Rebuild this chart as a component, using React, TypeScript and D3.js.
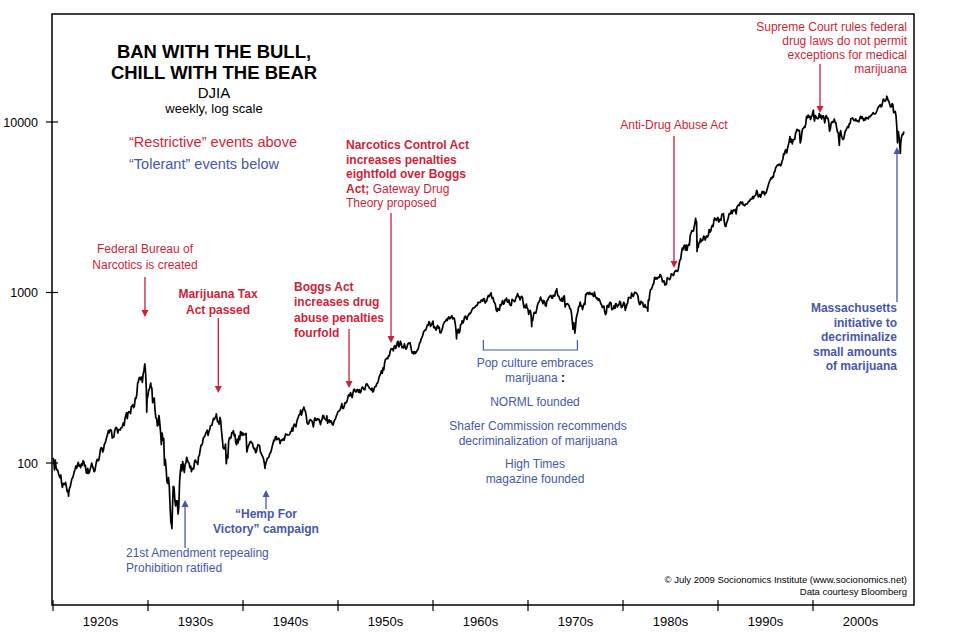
import React from "react";
import * as d3 from "d3";

// DJIA monthly closes (approx.), Jan..Dec of each year
const DJIA_1920S = [
  104, 91, 104, 94, 91, 91, 87, 84, 82, 85, 76, 72,
  76, 75, 75, 77, 73, 68, 69, 67, 71, 73, 77, 81,
  82, 85, 89, 92, 96, 93, 97, 101, 96, 97, 94, 99,
  97, 103, 102, 96, 97, 88, 87, 93, 87, 88, 92, 95,
  100, 96, 93, 89, 90, 96, 102, 105, 103, 104, 111, 120,
  123, 122, 116, 120, 129, 131, 136, 142, 147, 155, 150, 156,
  157, 154, 140, 142, 142, 154, 160, 162, 159, 150, 157, 157,
  156, 161, 161, 166, 172, 166, 182, 190, 197, 182, 198, 200,
  199, 195, 214, 216, 220, 211, 216, 240, 239, 252, 293, 300,
  317, 318, 308, 319, 297, 333, 347, 380, 343, 273, 238, 248,
];
const DJIA_1930S = [
  267, 272, 286, 279, 275, 226, 233, 240, 204, 184, 183, 165,
  167, 190, 172, 151, 128, 150, 136, 139, 97, 105, 93, 78,
  76, 82, 73, 56, 45, 43, 54, 73, 72, 61, 56, 60,
  60, 51, 55, 77, 89, 98, 90, 102, 94, 88, 98, 100,
  108, 104, 101, 100, 94, 96, 89, 93, 92, 93, 103, 104,
  101, 101, 98, 109, 111, 119, 127, 127, 131, 140, 142, 144,
  149, 152, 156, 145, 152, 157, 165, 166, 167, 177, 183, 180,
  185, 187, 186, 174, 175, 169, 185, 177, 154, 138, 123, 121,
  121, 129, 99, 111, 107, 134, 141, 139, 141, 151, 150, 155,
  144, 147, 131, 128, 138, 131, 144, 137, 153, 151, 145, 150,
];
const DJIA_1940S = [
  146, 147, 148, 149, 116, 122, 126, 129, 133, 134, 131, 131,
  124, 121, 122, 115, 116, 123, 128, 127, 127, 117, 114, 111,
  109, 106, 100, 95, 100, 103, 107, 107, 109, 114, 115, 119,
  125, 130, 136, 135, 142, 143, 137, 138, 140, 138, 130, 135,
  137, 136, 139, 136, 142, 148, 146, 147, 146, 146, 147, 152,
  153, 160, 154, 165, 169, 165, 163, 174, 181, 186, 192, 193,
  204, 191, 199, 207, 212, 205, 201, 189, 172, 169, 170, 177,
  180, 178, 177, 171, 163, 177, 184, 178, 178, 182, 180, 181,
  175, 168, 177, 180, 190, 189, 182, 181, 178, 189, 171, 177,
  179, 173, 177, 174, 168, 167, 175, 179, 182, 189, 193, 200,
];
const DJIA_1950S = [
  201, 203, 206, 214, 223, 209, 209, 216, 226, 225, 227, 235,
  248, 252, 247, 259, 249, 242, 257, 270, 271, 262, 261, 269,
  270, 260, 269, 258, 262, 274, 279, 275, 270, 269, 283, 291,
  290, 284, 280, 274, 272, 268, 275, 261, 264, 276, 281, 281,
  292, 294, 303, 319, 327, 334, 348, 336, 361, 352, 386, 404,
  409, 412, 409, 426, 425, 451, 466, 468, 467, 455, 483, 488,
  470, 484, 511, 516, 479, 493, 518, 502, 475, 480, 473, 500,
  479, 465, 474, 494, 505, 503, 508, 484, 456, 441, 449, 436,
  450, 440, 447, 456, 463, 478, 503, 509, 532, 543, 558, 584,
  594, 603, 602, 624, 644, 643, 675, 664, 632, 647, 659, 679,
];
const DJIA_1960S = [
  622, 630, 616, 601, 625, 641, 617, 626, 580, 580, 597, 616,
  648, 662, 676, 678, 697, 684, 705, 720, 701, 704, 722, 731,
  700, 708, 707, 665, 613, 561, 598, 609, 579, 590, 649, 652,
  683, 662, 683, 718, 727, 707, 695, 729, 733, 755, 751, 763,
  785, 800, 813, 811, 821, 832, 841, 839, 875, 873, 875, 874,
  903, 904, 889, 922, 918, 868, 882, 893, 931, 961, 947, 969,
  984, 952, 924, 933, 884, 870, 847, 788, 774, 807, 792, 786,
  850, 839, 866, 897, 853, 860, 904, 901, 927, 880, 876, 905,
  856, 841, 840, 912, 899, 898, 883, 896, 936, 952, 985, 944,
  946, 905, 936, 950, 938, 873, 816, 837, 813, 856, 812, 800,
];
const DJIA_1970S = [
  744, 778, 786, 736, 700, 684, 734, 765, 761, 756, 794, 839,
  869, 879, 904, 941, 907, 891, 859, 898, 887, 839, 831, 890,
  902, 928, 941, 954, 961, 929, 925, 964, 953, 956, 1018, 1020,
  999, 955, 951, 921, 901, 892, 926, 888, 947, 956, 822, 851,
  856, 861, 847, 837, 802, 802, 757, 679, 608, 666, 619, 616,
  704, 739, 768, 821, 832, 879, 832, 835, 794, 836, 860, 852,
  975, 973, 999, 997, 975, 1003, 985, 974, 990, 965, 947, 1005,
  954, 936, 919, 927, 899, 916, 891, 862, 847, 818, 830, 831,
  770, 742, 757, 837, 841, 819, 862, 877, 866, 793, 799, 805,
  839, 808, 862, 855, 822, 842, 846, 888, 878, 816, 822, 839,
];
const DJIA_1980S = [
  876, 863, 786, 817, 851, 868, 935, 933, 932, 925, 993, 964,
  947, 975, 1004, 998, 992, 977, 953, 882, 850, 853, 889, 875,
  871, 824, 823, 848, 820, 812, 809, 901, 896, 992, 1039, 1047,
  1076, 1113, 1130, 1226, 1200, 1222, 1199, 1216, 1233, 1225, 1276, 1259,
  1221, 1155, 1165, 1171, 1105, 1132, 1115, 1224, 1207, 1207, 1189, 1212,
  1287, 1284, 1267, 1258, 1315, 1336, 1348, 1334, 1329, 1375, 1472, 1547,
  1571, 1709, 1819, 1784, 1877, 1893, 1775, 1898, 1768, 1878, 1914, 1896,
  2158, 2224, 2305, 2286, 2292, 2419, 2572, 2663, 2596, 1994, 1834, 1939,
  1958, 2072, 1988, 2032, 2031, 2142, 2129, 2032, 2113, 2149, 2115, 2169,
  2342, 2258, 2294, 2419, 2480, 2440, 2661, 2737, 2693, 2645, 2706, 2753,
];
const DJIA_1990S = [
  2591, 2627, 2707, 2657, 2877, 2881, 2905, 2614, 2453, 2442, 2560, 2634,
  2736, 2882, 2914, 2888, 3028, 2907, 3025, 3044, 3017, 3069, 2895, 3169,
  3223, 3268, 3236, 3359, 3397, 3319, 3394, 3257, 3272, 3226, 3305, 3301,
  3310, 3370, 3435, 3428, 3527, 3516, 3540, 3651, 3555, 3681, 3684, 3754,
  3978, 3832, 3636, 3682, 3758, 3625, 3765, 3913, 3843, 3908, 3739, 3834,
  3843, 4011, 4158, 4321, 4465, 4556, 4709, 4647, 4789, 4756, 5075, 5117,
  5395, 5486, 5587, 5569, 5643, 5655, 5529, 5616, 5882, 6029, 6522, 6448,
  6813, 6878, 6584, 7009, 7331, 7673, 8222, 7622, 7945, 7442, 7823, 7908,
  7907, 8546, 8800, 9063, 8900, 8952, 8883, 7539, 7843, 8592, 9117, 9181,
  9359, 9307, 9786, 10789, 10560, 10971, 10655, 10829, 10337, 10730, 10878, 11497,
];
const DJIA_2000S = [
  10941, 10128, 10922, 10734, 10522, 10448, 10522, 11215, 10651, 10971, 10415, 10787,
  10887, 10495, 9879, 10735, 10912, 10502, 10523, 9950, 8848, 9075, 9852, 10022,
  9920, 10106, 10404, 9946, 9925, 9243, 8737, 8664, 7592, 8397, 8896, 8342,
  8054, 7891, 7992, 8480, 8850, 8985, 9234, 9416, 9275, 9801, 9782, 10454,
  10488, 10584, 10358, 10226, 10188, 10435, 10140, 10174, 10080, 10027, 10428, 10783,
  10490, 10766, 10504, 10193, 10467, 10275, 10641, 10482, 10569, 10440, 10806, 10718,
  10865, 10993, 11109, 11367, 11168, 11150, 11186, 11381, 11679, 12081, 12221, 12463,
  12622, 12268, 12354, 13063, 13628, 13409, 13212, 13358, 13896, 13930, 13372, 13265,
  12650, 12266, 12263, 12820, 12638, 11350, 11378, 11544, 10851, 9325, 8829, 8776,
  8001, 7063, 7609, 8168, 8500, 8447, 8800,
];
const DECADES = [DJIA_1920S, DJIA_1930S, DJIA_1940S, DJIA_1950S, DJIA_1960S, DJIA_1970S, DJIA_1980S, DJIA_1990S, DJIA_2000S];

// intra-month extremes: [decimal year, value]
const EXTREMES: [number, number][] = [
  [1920.0, 107], [1921.64, 63.9], [1929.67, 381], [1929.87, 198.7], [1930.29, 294],
  [1932.52, 41.2], [1933.16, 50.2], [1937.19, 194], [1938.25, 99], [1942.32, 92.9],
  [1946.41, 212.5], [1962.48, 535], [1966.11, 995], [1970.40, 631], [1973.03, 1052],
  [1974.93, 578], [1982.61, 777], [1987.65, 2722], [1987.80, 1739], [2000.04, 11723],
  [2002.77, 7286], [2007.77, 14165], [2008.89, 7552], [2009.19, 6547],
];

const DECADE_LABELS = ["1920s", "1930s", "1940s", "1950s", "1960s", "1970s", "1980s", "1990s", "2000s"];
const DECADE_TICKS = [1920, 1930, 1940, 1950, 1960, 1970, 1980, 1990, 2000];
const Y_TICKS = [100, 1000, 10000];

const RED = "#cc1f3a";
const BLUE = "#4857a5";
const FONT = "'Liberation Sans', Arial, Helvetica, sans-serif";

function buildSeries(): [number, number][] {
  const pts: [number, number][] = [];
  DECADES.forEach((arr, di) => {
    arr.forEach((v, i) => {
      pts.push([1920 + di * 10 + (i + 1) / 12 - 0.01, v]);
    });
  });
  EXTREMES.forEach((e) => pts.push(e));
  pts.sort((a, b) => a[0] - b[0]);
  return pts;
}

function Arrow({ x, from, to, color }: { x: number; from: number; to: number; color: string }) {
  const dir = to > from ? 1 : -1;
  const head = 7;
  return (
    <g>
      <line x1={x} x2={x} y1={from} y2={to - dir * head} stroke={color} strokeWidth={1.3} />
      <path d={`M${x - 3.5},${to - dir * head} L${x + 3.5},${to - dir * head} L${x},${to} Z`} fill={color} />
    </g>
  );
}

function Lines({ lines, x, y0, dy, anchor, color, weight }: { lines: React.ReactNode[]; x: number; y0: number; dy: number; anchor: string; color: string; weight?: string }) {
  return (
    <text x={x} y={y0} textAnchor={anchor as any} fill={color} fontWeight={weight || "normal"} fontSize={12} fontFamily={FONT}>
      {lines.map((l, i) => (
        <tspan key={i} x={x} y={y0 + i * dy}>{l}</tspan>
      ))}
    </text>
  );
}

export default function App() {
  const W = 960, H = 635;
  const left = 52, right = 914, top = 14, bottom = 605;
  const x = d3.scaleLinear().domain([1920, 2010]).range([53, 908]);
  const y = d3.scaleLog().domain([100, 10000]).range([463, 122]);
  const series = buildSeries();
  const line = d3.line<[number, number]>().x((d) => x(d[0])).y((d) => y(d[1]));

  return (
    <svg width={W} height={H} style={{ position: "absolute", left: 0, top: 0, background: "#fff" }} fontFamily={FONT}>
      <rect width={W} height={H} fill="#fff" />
      {/* frame */}
      <path d={`M${left},${top} H${right} V${bottom} H${left} Z`} fill="none" stroke="#000" strokeWidth={1.5} />
      {/* y axis ticks */}
      {Y_TICKS.map((t) => (
        <g key={t}>
          <line x1={left - 6} x2={left + 6} y1={y(t)} y2={y(t)} stroke="#000" strokeWidth={1.2} />
          <text x={38} y={y(t) + 4.5} textAnchor="end" fontSize={12.5} fill="#000">{t}</text>
        </g>
      ))}
      {/* x axis ticks */}
      {DECADE_TICKS.map((t, i) => (
        <g key={t}>
          <line x1={x(t)} x2={x(t)} y1={bottom - 5} y2={bottom + 6} stroke="#000" strokeWidth={1.2} />
          <text x={(x(t) + x(t + 10)) / 2} y={626} textAnchor="middle" fontSize={13} fill="#000">{DECADE_LABELS[i]}</text>
        </g>
      ))}
      {/* data line */}
      <path d={line(series) || ""} fill="none" stroke="#000" strokeWidth={1.7} strokeLinejoin="round" />

      {/* title block */}
      <text x={214} y={58} textAnchor="middle" fontSize={18.5} fontWeight="bold" fill="#000">BAN WITH THE BULL,</text>
      <text x={214} y={79} textAnchor="middle" fontSize={18.5} fontWeight="bold" fill="#000">CHILL WITH THE BEAR</text>
      <text x={214} y={98} textAnchor="middle" fontSize={15} fill="#000">DJIA</text>
      <text x={214} y={113} textAnchor="middle" fontSize={13} fill="#000">weekly, log scale</text>
      <text x={129} y={147} fontSize={15.5} fill={RED} textLength={168} lengthAdjust="spacingAndGlyphs">“Restrictive” events above</text>
      <text x={129} y={169} fontSize={15.5} fill={BLUE} textLength={150} lengthAdjust="spacingAndGlyphs">“Tolerant” events below</text>

      {/* restrictive events */}
      <Lines lines={["Federal Bureau of", "Narcotics is created"]} x={145} y0={253} dy={15.5} anchor="middle" color={RED} />
      <Arrow x={x(1929.68)} from={277} to={317} color={RED} />

      <Lines lines={["Marijuana Tax", "Act passed"]} x={218} y0={298} dy={15.5} anchor="middle" color={RED} weight="bold" />
      <Arrow x={x(1937.4)} from={318} to={393} color={RED} />

      <Lines lines={["Boggs Act", "increases drug", "abuse penalties", "fourfold"]} x={294} y0={291} dy={15.4} anchor="start" color={RED} weight="bold" />
      <Arrow x={x(1951.16)} from={329} to={388} color={RED} />

      <text x={346} y={149} fill={RED} fontSize={12} fontFamily={FONT}>
        <tspan x={346} y={149} fontWeight="bold">Narcotics Control Act</tspan>
        <tspan x={346} y={163.5} fontWeight="bold">increases penalties</tspan>
        <tspan x={346} y={178} fontWeight="bold">eightfold over Boggs</tspan>
        <tspan x={346} y={192.5} fontWeight="bold">Act;</tspan>
        <tspan> Gateway Drug</tspan>
        <tspan x={346} y={207}>Theory proposed</tspan>
      </text>
      <Arrow x={x(1955.58)} from={213} to={343} color={RED} />

      <Lines lines={["Anti-Drug Abuse Act"]} x={674} y0={129} dy={14} anchor="middle" color={RED} />
      <Arrow x={x(1985.37)} from={136} to={268} color={RED} />

      <Lines lines={["Supreme Court rules federal", "drug laws do not permit", "exceptions for medical", "marijuana"]} x={907} y0={31} dy={14} anchor="end" color={RED} />
      <Arrow x={x(2000.74)} from={64} to={113} color={RED} />

      {/* tolerant events */}
      <Lines lines={["21st Amendment repealing", "Prohibition ratified"]} x={126} y0={557} dy={14.5} anchor="start" color={BLUE} />
      <Arrow x={x(1933.9)} from={548} to={500} color={BLUE} />

      <Lines lines={["“Hemp For", "Victory” campaign"]} x={266} y0={518} dy={15} anchor="middle" color={BLUE} weight="bold" />
      <Arrow x={x(1942.42)} from={509} to={490} color={BLUE} />

      <path d={`M${x(1965.3)},340 V350 H${x(1975.2)} V340`} fill="none" stroke={BLUE} strokeWidth={1.2} />
      <text x={535} y={367} textAnchor="middle" fontSize={12} fill={BLUE}>Pop culture embraces</text>
      <text x={535} y={382} textAnchor="middle" fontSize={12} fill={BLUE}>
        marijuana<tspan fill="#000" fontWeight="bold"> :</tspan>
      </text>
      <text x={535} y={406} textAnchor="middle" fontSize={12} fill={BLUE}>NORML founded</text>
      <text x={538} y={430} textAnchor="middle" fontSize={12} fill={BLUE}>Shafer Commission recommends</text>
      <text x={538} y={444.5} textAnchor="middle" fontSize={12} fill={BLUE}>decriminalization of marijuana</text>
      <text x={535} y={468} textAnchor="middle" fontSize={12} fill={BLUE}>High Times</text>
      <text x={535} y={482.5} textAnchor="middle" fontSize={12} fill={BLUE}>magazine founded</text>

      <Lines lines={["Massachusetts", "initiative to", "decriminalize", "small amounts", "of marijuana"]} x={897} y0={312} dy={14.5} anchor="end" color={BLUE} weight="bold" />
      <Arrow x={x(2008.84)} from={302} to={147} color={BLUE} />

      {/* credits */}
      <text x={907} y={583} textAnchor="end" fontSize={9.5} fill="#000">© July 2009 Socionomics Institute (www.socionomics.net)</text>
      <text x={907} y={594.5} textAnchor="end" fontSize={9.5} fill="#000">Data courtesy Bloomberg</text>
    </svg>
  );
}
